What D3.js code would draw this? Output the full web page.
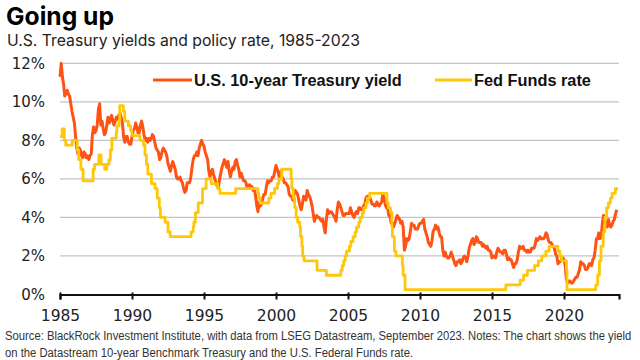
<!DOCTYPE html>
<html><head><meta charset="utf-8">
<script src="https://cdn.jsdelivr.net/npm/d3@7/dist/d3.min.js"></script>
<style>html,body{margin:0;padding:0;background:#fff;}svg{display:block;}</style>
</head><body>
<svg id="chart" width="640" height="360"></svg>
<script>
// ---------- DATA ----------
const titleText = "Going up";
const subtitleText = "U.S. Treasury yields and policy rate, 1985-2023";
const seriesNames = ["U.S. 10-year Treasury yield", "Fed Funds rate"];
const yTicks = [0, 2, 4, 6, 8, 10, 12];
const xTicks = [1985, 1990, 1995, 2000, 2005, 2010, 2015, 2020];
const footnoteLines = [
  "Source: BlackRock Investment Institute, with data from LSEG Datastream, September 2023. Notes: The chart shows the yield",
  "on the Datastream 10-year Benchmark Treasury and the U.S. Federal Funds rate."
];
// 10-year Treasury yield, monthly from Jan 1985 (percent)
const treasuryStart = 1985;
const treasuryMonthly = [
  11.3,12.0,11.3,10.9,10.3,10.5,10.6,10.4,10.3,9.9,9.5,9.2,
  8.9,8.2,7.6,7.3,7.6,7.5,7.2,7.1,7.4,7.3,7.1,7.2,
  7.0,7.2,7.3,8.3,8.7,8.4,8.5,8.8,9.6,9.9,8.8,9.0,
  8.6,8.3,8.4,8.8,9.2,8.9,9.1,9.3,9.0,8.8,9.0,9.2,
  9.1,9.3,9.4,9.2,8.9,8.2,7.9,8.2,8.2,7.9,7.8,7.8,
  8.2,8.5,8.6,8.9,8.7,8.4,8.4,8.8,9.0,8.7,8.3,8.0,
  8.1,7.9,8.1,8.0,8.1,8.3,8.2,7.9,7.6,7.5,7.4,7.0,
  7.1,7.4,7.6,7.5,7.4,7.2,6.8,6.6,6.4,6.7,6.9,6.7,
  6.5,6.1,6.0,6.0,6.1,5.9,5.8,5.5,5.3,5.4,5.8,5.8,
  5.8,6.1,6.6,7.0,7.2,7.2,7.4,7.2,7.6,7.8,8.0,7.8,
  7.7,7.4,7.2,7.0,6.4,6.1,6.4,6.5,6.2,6.0,5.8,5.6,
  5.6,6.0,6.3,6.6,6.8,7.0,6.8,6.6,6.9,6.4,6.1,6.4,
  6.6,6.5,6.9,7.0,6.7,6.5,6.1,6.3,6.1,5.9,5.9,5.8,
  5.5,5.6,5.7,5.6,5.6,5.4,5.5,5.1,4.6,4.3,4.8,4.6,
  4.7,5.0,5.2,5.2,5.6,5.9,5.8,5.9,5.9,6.1,6.1,6.4,
  6.7,6.5,6.3,6.0,6.4,6.1,6.0,5.8,5.8,5.7,5.6,5.2,
  5.1,5.1,4.9,5.2,5.4,5.3,5.2,4.9,4.6,4.4,4.7,5.1,
  5.0,4.9,5.4,5.2,5.1,4.9,4.6,4.2,3.8,4.0,4.1,4.0,
  4.0,3.9,3.8,3.9,3.5,3.2,3.9,4.4,4.2,4.3,4.3,4.2,
  4.1,4.0,3.8,4.4,4.8,4.7,4.5,4.3,4.1,4.1,4.2,4.2,
  4.2,4.2,4.5,4.3,4.1,4.0,4.2,4.3,4.2,4.5,4.5,4.4,
  4.4,4.6,4.7,5.0,5.1,5.1,5.1,4.9,4.7,4.7,4.6,4.6,
  4.8,4.7,4.6,4.7,4.8,5.2,5.0,4.7,4.5,4.5,4.1,4.1,
  3.7,3.7,3.5,3.7,3.9,4.1,4.0,3.9,3.7,3.8,3.5,2.3,
  2.5,2.9,2.8,2.9,3.3,3.7,3.6,3.6,3.4,3.4,3.4,3.6,
  3.7,3.7,3.8,3.9,3.4,3.2,3.0,2.7,2.6,2.5,2.8,3.3,
  3.4,3.6,3.4,3.5,3.2,3.0,3.0,2.3,2.0,2.2,2.0,1.9,
  1.9,2.0,2.2,2.0,1.8,1.6,1.5,1.7,1.7,1.8,1.6,1.7,
  1.9,2.0,1.9,1.7,2.0,2.4,2.6,2.8,2.9,2.6,2.7,3.0,
  2.9,2.7,2.7,2.7,2.5,2.6,2.5,2.4,2.5,2.3,2.3,2.2,
  1.9,2.0,2.0,1.9,2.2,2.4,2.3,2.2,2.2,2.1,2.3,2.3,
  2.1,1.8,1.9,1.8,1.8,1.6,1.4,1.6,1.6,1.8,2.2,2.5,
  2.4,2.4,2.5,2.3,2.3,2.2,2.3,2.2,2.2,2.4,2.4,2.4,
  2.6,2.9,2.8,2.9,3.0,2.9,2.9,2.9,3.0,3.2,3.1,2.8,
  2.7,2.7,2.6,2.5,2.4,2.1,2.0,1.6,1.7,1.7,1.8,1.9,
  1.8,1.5,0.8,0.6,0.7,0.7,0.6,0.6,0.7,0.8,0.9,0.9,
  1.1,1.3,1.7,1.6,1.6,1.5,1.3,1.3,1.4,1.6,1.6,1.5,
  1.8,1.9,2.3,2.9,2.9,3.2,2.9,3.0,3.7,4.1,3.8,3.6,
  3.5,3.9,3.6,3.5,3.6,3.8,3.9,4.2,4.4
];
// Fed Funds rate: dates of changes (decimal year) and new level (percent)
const fedDates = [1985.0,1985.15,1985.3,1985.4,1985.85,1986.2,1986.3,1986.45,1986.6,1987.3,1987.4,1987.7,1987.85,1988.1,1988.25,1988.4,1988.5,1988.6,1988.9,1988.95,1989.1,1989.15,1989.4,1989.5,1989.75,1989.9,1990.0,1990.55,1990.8,1990.9,1991.0,1991.1,1991.35,1991.6,1991.75,1991.9,1991.97,1992.3,1992.5,1992.65,1994.1,1994.25,1994.3,1994.4,1994.6,1994.9,1995.15,1995.5,1995.95,1996.1,1997.2,1998.75,1998.8,1998.9,1999.5,1999.65,1999.9,2000.1,2000.2,2000.4,2001.05,2001.1,2001.2,2001.3,2001.4,2001.5,2001.65,2001.7,2001.8,2001.85,2001.95,2002.85,2003.5,2004.5,2004.6,2004.7,2004.8,2004.9,2005.1,2005.2,2005.35,2005.5,2005.6,2005.75,2005.85,2006.0,2006.1,2006.25,2006.35,2006.5,2007.7,2007.8,2007.95,2008.05,2008.08,2008.22,2008.33,2008.77,2008.83,2008.96,2015.96,2016.96,2017.2,2017.46,2017.96,2018.22,2018.46,2018.74,2018.97,2019.58,2019.71,2019.83,2020.17,2020.21,2022.21,2022.34,2022.46,2022.57,2022.72,2022.84,2022.96,2023.09,2023.22,2023.34,2023.57,2023.75];
const fedValues = [8.2,8.6,8.0,7.75,8.0,7.5,7.0,6.5,5.9,6.5,6.75,7.25,6.75,6.5,6.75,7.0,7.5,8.1,8.4,8.75,9.0,9.8,9.5,9.0,8.75,8.5,8.25,8.0,7.75,7.25,6.75,6.25,5.75,5.5,5.0,4.5,4.0,3.75,3.25,3.0,3.25,3.5,3.75,4.25,4.75,5.5,6.0,5.75,5.5,5.25,5.5,5.25,5.0,4.75,5.0,5.25,5.5,5.75,6.0,6.5,6.0,5.5,5.0,4.5,4.0,3.75,3.5,3.0,2.5,2.0,1.75,1.25,1.0,1.25,1.5,1.75,2.0,2.25,2.5,2.75,3.0,3.25,3.5,3.75,4.0,4.25,4.5,4.75,5.0,5.25,4.75,4.5,4.25,3.5,3.0,2.25,2.0,1.5,1.0,0.25,0.5,0.75,1.0,1.25,1.5,1.75,2.0,2.25,2.5,2.25,2.0,1.75,1.25,0.25,0.5,1.0,1.75,2.5,3.25,4.0,4.5,4.75,5.0,5.25,5.5,5.5];

// ---------- CHART ----------
const svg = d3.select("#chart");
const colTsy = "#ff5316", colFed = "#ffc70a";
const x = d3.scaleLinear().domain([1985, 2023.82]).range([60, 619]);
const y = d3.scaleLinear().domain([0, 12]).range([294.5, 63.3]);

function fit(sel, target) {
  const w = sel.node().getComputedTextLength();
  const fs = parseFloat(sel.attr("font-size"));
  sel.attr("font-size", (fs * target / w).toFixed(2));
  return fs * target / w;
}

// gridlines
svg.append("g").selectAll("line").data(yTicks.filter(d => d > 0)).join("line")
  .attr("x1", x.range()[0]).attr("x2", x.range()[1])
  .attr("y1", d => y(d)).attr("y2", d => y(d))
  .attr("stroke", "#c4c4c4").attr("stroke-width", 1.3);

// y labels
svg.append("g").selectAll("text").data(yTicks).join("text")
  .attr("x", 45).attr("y", d => y(d)).attr("dy", "0.36em")
  .attr("text-anchor", "end")
  .attr("font-family", "DejaVu Sans, Verdana, sans-serif").attr("font-size", 15)
  .attr("fill", "#222").text(d => d + "%");

// x axis
const xAxis = d3.axisBottom(x).tickValues(xTicks).tickFormat(d3.format("d")).tickSize(5).tickPadding(10);
const gx = svg.append("g").attr("transform", `translate(0,${y(0)})`).call(xAxis);
gx.select(".domain").attr("stroke", "#111").attr("stroke-width", 2.2);
gx.selectAll(".tick line").attr("stroke", "#111").attr("stroke-width", 2).attr("y1", -2);
gx.selectAll(".tick text").attr("font-family", "DejaVu Sans, Verdana, sans-serif")
  .attr("font-size", 15.5).attr("fill", "#222");

// lines
const tsyData = treasuryMonthly.map((v, i) => ({t: treasuryStart + i / 12, v}));
const fedData = fedDates.map((t, i) => ({t, v: fedValues[i]}));
const lineT = d3.line().x(d => x(d.t)).y(d => y(d.v));
const lineF = d3.line().x(d => x(d.t)).y(d => y(d.v)).curve(d3.curveStepAfter);
svg.append("path").datum(tsyData).attr("d", lineT).attr("fill", "none")
  .attr("stroke", colTsy).attr("stroke-width", 3).attr("stroke-linejoin", "round");
svg.append("path").datum(fedData).attr("d", lineF).attr("fill", "none")
  .attr("stroke", colFed).attr("stroke-width", 2.8).attr("stroke-linejoin", "round");

// legend
const legend = [
  {name: seriesNames[0], color: colTsy, x1: 153, x2: 192, tx: 194, w: 208},
  {name: seriesNames[1], color: colFed, x1: 435, x2: 472, tx: 474, w: 117}
];
legend.forEach(l => {
  svg.append("line").attr("x1", l.x1).attr("x2", l.x2).attr("y1", 80).attr("y2", 80)
    .attr("stroke", l.color).attr("stroke-width", 3);
  const t = svg.append("text").attr("x", l.tx).attr("y", 85.5)
    .attr("font-family", "Liberation Sans, Arial, sans-serif").attr("font-weight", "bold")
    .attr("font-size", 15).attr("fill", "#111").text(l.name);
  fit(t, l.w);
});

// titles
const tt = svg.append("text").attr("x", 6).attr("y", 25)
  .attr("font-family", "Inter, sans-serif").attr("font-weight", "bold")
  .attr("font-size", 25).attr("fill", "#000").text(titleText);
fit(tt, 108);
const st = svg.append("text").attr("x", 7).attr("y", 45.5)
  .attr("font-family", "Inter, sans-serif").attr("font-size", 16)
  .attr("fill", "#222").text(subtitleText);
fit(st, 353);

// footnote: condensed text, squeezed horizontally to the reference width
function footLine(txt) {
  return svg.append("text").attr("x", 0).attr("y", 0)
    .attr("font-family", "Liberation Sans Narrow, Liberation Sans, sans-serif")
    .attr("font-size", 13.5).attr("fill", "#333").text(txt);
}
const f1 = footLine(footnoteLines[0]);
const sx = 627 / f1.node().getComputedTextLength();
f1.attr("transform", `translate(5,340) scale(${sx.toFixed(4)},1)`);
const f2 = footLine(footnoteLines[1]);
f2.attr("transform", `translate(5,356.5) scale(${sx.toFixed(4)},1)`);
</script>
</body></html>
